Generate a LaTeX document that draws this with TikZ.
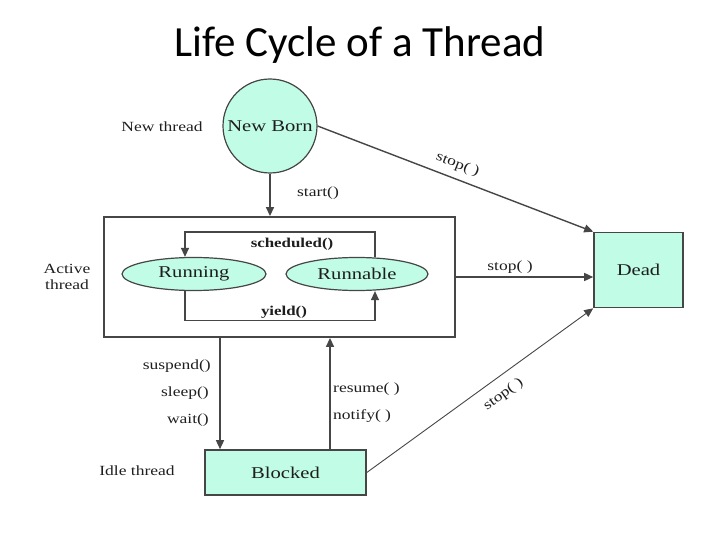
\documentclass[tikz,border=0pt]{standalone}
\usepackage{fontspec}
\setmainfont{Liberation Serif}
\newfontfamily\titlefont{Carlito}
\newfontfamily\diag[FakeStretch=1.25]{Liberation Serif}
\usetikzlibrary{arrows.meta,calc,shapes.geometric}
\definecolor{statefill}{RGB}{192,252,230}
\definecolor{edge}{RGB}{70,70,70}
\definecolor{ink}{RGB}{30,30,30}
\tikzset{
  arr/.style={draw=edge, line width=1.4pt, -{Triangle[length=9pt,width=8pt]}},
  thin arr/.style={draw=edge, line width=0.9pt, -{Triangle[length=9pt,width=8pt]}},
  lbl/.style={font=\diag\fontsize{14}{16}\selectfont, text=ink, inner sep=1pt},
  blbl/.style={font=\diag\fontsize{13.5}{15}\selectfont\bfseries, text=ink, inner sep=1pt},
  statelbl/.style={font=\diag\fontsize{16.5}{19}\selectfont, text=ink},
  ellstate/.style={ellipse, draw=edge, line width=1.2pt, fill=statefill, minimum width=144pt, minimum height=33pt, inner sep=0pt},
  boxstate/.style={rectangle, draw=edge, line width=1.6pt, fill=statefill, inner sep=0pt},
}
\begin{document}
\begin{tikzpicture}[x=1pt,y=-1pt]
\useasboundingbox (0,0) rectangle (720,540);
\node[font=\titlefont\fontsize{43}{50}\selectfont, text=black] (title) at (360,45) {Life Cycle of a Thread};

% states
\node[circle, draw=edge, line width=1.2pt, fill=statefill, minimum size=94pt, inner sep=0pt, statelbl] (newborn) at (270,126) {New Born};
\node[rectangle, draw=edge, line width=1.8pt, fill=white, minimum width=351pt, minimum height=120pt, inner sep=0pt] (active) at (279.5,277) {};
\node[ellstate, statelbl] (running) at (194,274) {Running};
\node[ellstate, statelbl, minimum width=142pt] (runnable) at (357,274) {Runnable};
\node[boxstate, statelbl, minimum width=89pt, minimum height=75pt] (dead) at (638.5,270) {Dead};
\node[boxstate, statelbl, minimum width=161pt, minimum height=45pt] (blocked) at (285.5,472.5) {Blocked};

% side labels
\node[lbl] (lnew) at (162,127) {New thread};
\node[lbl, align=center] (lactive) at (67,277) {Active\\thread};
\node[lbl] (lidle) at (137,471) {Idle thread};

% new born -> active
\draw[arr] (newborn.south) -- (newborn.south |- active.north);
\node[lbl] (lstart) at (318,193) {start()};

% inner loop
\draw[draw=edge, line width=1.2pt, -{Triangle[length=9pt,width=8pt]}]
  ([xshift=18pt]runnable.north) -- ++(0,-25) -| ([xshift=-9pt]running.north);
\draw[draw=edge, line width=1.2pt, -{Triangle[length=9pt,width=8pt]}]
  ([xshift=-9pt]running.south) -- ++(0,29) -| ([xshift=18pt]runnable.south);
\node[blbl] (lsched) at (292,244) {scheduled()};
\node[blbl] (lyield) at (284,312) {yield()};

% to dead
\draw[arr] (newborn.east) -- node[lbl, sloped, above=6pt, pos=0.49] (lstop1) {stop( )} (dead.north west);
\coordinate (ystop) at (0,277);
\draw[arr] (active.east |- ystop) -- (dead.west |- ystop);
\node[lbl] (lstop2) at (510,267) {stop( )};
\draw[thin arr] (blocked.east) -- node[lbl, sloped, below=9pt, pos=0.56] (lstop3) {stop( )} (dead.south west);

% active <-> blocked
\coordinate (xdown) at (220,0);
\coordinate (xup) at (330,0);
\draw[arr] (active.south -| xdown) -- (blocked.north -| xdown);
\draw[arr] (blocked.north -| xup) -- (active.south -| xup);
\node[lbl, anchor=east] (lsusp) at (212,366) {suspend()};
\node[lbl, anchor=east] (lsleep) at (210,393) {sleep()};
\node[lbl, anchor=east] (lwait) at (210,420) {wait()};
\node[lbl, anchor=west] (lres) at (332,389) {resume( )};
\node[lbl, anchor=west] (lnot) at (332,416) {notify( )};
\end{tikzpicture}
\end{document}
